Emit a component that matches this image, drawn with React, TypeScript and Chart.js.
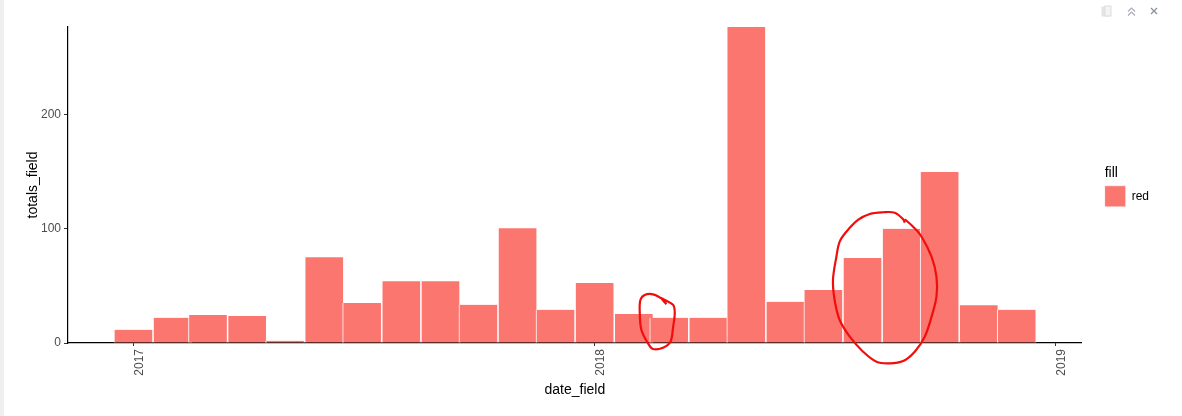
import React, { useEffect, useRef } from "react";
import { Chart, registerables } from "chart.js";

Chart.register(...registerables);

const monthStartDays = [0, 31, 59, 90, 120, 151, 181, 212, 243, 273, 304, 334, 365, 396, 424, 455, 485, 516, 546, 577, 608, 638, 669, 699];
const totals = [11.5, 22, 24.5, 23.6, 2, 75, 35, 54, 54, 33.5, 100.5, 29, 52.5, 25.4, 22, 22, 276.5, 36, 46.4, 74.4, 100, 149.7, 33, 29];
const yearTickDays = [0, 365, 730];
const yearLabels: Record<number, string> = { 0: "2017", 365: "2018", 730: "2019" };

const smallLoop = [[421.8, 33.9], [417.9, 39.1], [420.5, 37.6], [427.1, 33.3], [428.4, 26], [427.1, 14.3], [425, 1.1], [419.1, -4.1], [411.2, -5.3], [407.2, -0.3], [402, 11.4], [400.7, 26], [401.2, 37.6], [404.6, 42], [411.2, 42.6], [417.9, 39.1]];
const bigLoop = [[610.4, 105.3], [609.1, 108.3], [602.5, 114], [593.2, 114.4], [582.7, 112.9], [573.4, 107.7], [564.2, 97.4], [558.9, 88.7], [556.3, 75.5], [553.6, 55.1], [554.9, 37.6], [558.9, 20.1], [566.9, 5.5], [577.4, -7.6], [588, -16.4], [598.5, -17.8], [609.1, -15.8], [618.3, -7.6], [626.2, 5.5], [631.6, 23], [635.5, 40.5], [635.5, 58], [631.6, 75.5], [623.7, 93], [617, 101.8], [610.4, 108.3]];

const toPoints = (pts: number[][]) => pts.map(([x, y]) => ({ x, y }));
const FONT = "'Liberation Sans', Arial, sans-serif";
const BAR = "#FC7670";

function loopDataset(pts: number[][]) {
  return {
    type: "line" as const,
    data: toPoints(pts),
    borderColor: "#F20D0D",
    borderWidth: 2.2,
    pointRadius: 0,
    tension: 0.35,
    clip: false as any,
    order: 0,
    label: "annotation",
  };
}

// The legend sits a little right of the plot panel, as ggplot leaves a gap there.
const legendShift = {
  id: "legendShift",
  afterLayout(chart: any) {
    const dx = 23;
    const lg = chart.legend;
    lg.left += dx;
    lg.right += dx;
    lg.legendHitBoxes.forEach((h: any) => {
      h.left += dx;
    });
  },
};

export default function App() {
  const ref = useRef<HTMLCanvasElement>(null);
  useEffect(() => {
    const chart = new Chart(ref.current!, {
      type: "bar",
      plugins: [legendShift],
      data: {
        datasets: [
          {
            label: "red",
            data: monthStartDays.map((x, i) => ({ x, y: totals[i] })),
            backgroundColor: BAR,
            borderColor: "#FFFFFF",
            borderWidth: { left: 1, right: 1, top: 0, bottom: 0 },
            barThickness: 39,
            order: 1,
          } as any,
          loopDataset(smallLoop),
          loopDataset(bigLoop),
        ],
      },
      options: {
        animation: false,
        responsive: false,
        maintainAspectRatio: false,
        layout: { padding: { top: 27, left: 25, right: 46, bottom: 17 } },
        plugins: {
          tooltip: { enabled: false },
          legend: {
            position: "right",
            align: "start",
            title: {
              display: true,
              text: "fill",
              color: "#000",
              font: { family: FONT, size: 14 },
              padding: { top: 139, bottom: 3 },
              position: "start",
            } as any,
            labels: {
              filter: (it: any) => it.text === "red",
              boxWidth: 21,
              boxHeight: 21,
              color: "#000",
              font: { family: FONT, size: 12 },
              padding: 0,
            },
          },
        },
        scales: {
          x: {
            type: "linear",
            offset: false,
            min: -51.8,
            max: 750.4,
            grid: { offset: false, drawOnChartArea: false, color: "#333", tickLength: 3, tickWidth: 1 },
            border: { color: "#000", width: 1.2 },
            afterBuildTicks: (ax: any) => {
              ax.ticks = yearTickDays.map((value) => ({ value }));
            },
            afterFit: (ax: any) => {
              ax.height = 56;
            },
            ticks: {
              autoSkip: false,
              minRotation: 90,
              maxRotation: 90,
              labelOffset: 6,
              padding: 3,
              color: "#4D4D4D",
              font: { family: FONT, size: 12 },
              callback: (v: any) => yearLabels[v as number] ?? "",
            },
            title: { display: true, text: "date_field", color: "#000", font: { family: FONT, size: 14 }, padding: 0 },
          },
          y: {
            type: "linear",
            min: 0,
            max: 276.5,
            grid: { drawOnChartArea: false, color: "#333", tickLength: 4, tickWidth: 1 },
            border: { color: "#000", width: 1.2 },
            afterFit: (ax: any) => {
              ax.width = 43;
            },
            ticks: {
              stepSize: 100,
              includeBounds: false,
              padding: 3,
              color: "#4D4D4D",
              font: { family: FONT, size: 12 },
            },
            title: { display: true, text: "totals_field", color: "#000", font: { family: FONT, size: 14 }, padding: 0 },
          },
        },
      } as any,
    });
    return () => chart.destroy();
  }, []);

  return (
    <div style={{ position: "fixed", left: 0, top: 0, width: 1182, height: 416, background: "#fff", overflow: "hidden" }}>
      <div style={{ position: "absolute", left: 0, top: 0, width: 4, height: 416, background: "#EFEFEF" }} />
      <canvas ref={ref} width={1182} height={416} style={{ position: "absolute", left: 0, top: 0, display: "block" }} />
      <svg width={70} height={16} style={{ position: "absolute", left: 1098, top: 4 }} fill="none">
        <rect x="4" y="3" width="7" height="9" fill="#E4E4E4" stroke="#E4E4E4" />
        <rect x="7" y="2" width="6" height="10" fill="#F4F4F4" stroke="#DDD" />
        <path d="M30 7.5 L33.5 4 L37 7.5 M30 11.5 L33.5 8 L37 11.5" stroke="#A9AEB5" strokeWidth="1.2" />
        <path d="M53 4 L59 10 M59 4 L53 10" stroke="#8E949C" strokeWidth="1.4" />
      </svg>
    </div>
  );
}
